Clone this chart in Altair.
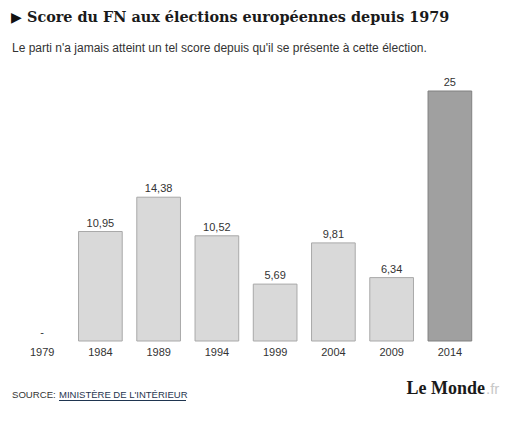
import altair as alt
import pandas as pd

years = ["1979", "1984", "1989", "1994", "1999", "2004", "2009", "2014"]
scores = [None, 10.95, 14.38, 10.52, 5.69, 9.81, 6.34, 25]
labels = ["-", "10,95", "14,38", "10,52", "5,69", "9,81", "6,34", "25"]
groups = ["past"] * 7 + ["current"]

title_text = "Score du FN aux élections européennes depuis 1979"
subtitle_text = "Le parti n'a jamais atteint un tel score depuis qu'il se présente à cette élection."

df = pd.DataFrame({"year": years, "score": scores, "label": labels, "group": groups})
one = pd.DataFrame({"k": [0]})

xscale = alt.Scale(domain=years, range=[13, 479], paddingInner=0.25, paddingOuter=0.125)
yscale = alt.Scale(domain=[0, 25], range=[341, 91], nice=False, zero=True)
X = alt.X("year:N", scale=xscale, axis=None)

base = alt.Chart(df)

bars = base.transform_filter("isValid(datum.score)").mark_bar(strokeWidth=1).encode(
    x=X,
    y=alt.Y("score:Q", scale=yscale, axis=None),
    fill=alt.Fill("group:N", scale=alt.Scale(domain=["past", "current"], range=["#d9d9d9", "#a0a0a0"]), legend=None),
    stroke=alt.Stroke("group:N", scale=alt.Scale(domain=["past", "current"], range=["#a9a9a9", "#808080"]), legend=None),
)

values = base.transform_calculate(ypos="isValid(datum.score) ? datum.score : 0").mark_text(
    dy=-5, baseline="alphabetic", fontSize=11, font="Liberation Sans", color="#333333"
).encode(
    x=X,
    y=alt.Y("ypos:Q", scale=yscale, axis=None),
    text="label:N",
)

year_labels = base.mark_text(baseline="middle", fontSize=11, font="Liberation Sans", color="#333333").encode(
    x=X, y=alt.value(353), text="year:N"
)

def deco(text, x, y, align="left", **kw):
    return alt.Chart(one).mark_text(align=align, baseline="alphabetic", **kw).encode(
        x=alt.value(x), y=alt.value(y), text=alt.value(text)
    )

tri = deco("▶", 11, 22, font="DejaVu Sans", fontSize=14, color="#111111")
title = deco(title_text, 27, 22, font="DejaVu Serif", fontWeight="bold", fontSize=14.4, color="#1a1a1a")
subtitle = deco(subtitle_text, 12, 52, font="Liberation Sans", fontSize=12, color="#333333")
source = deco("SOURCE:", 12, 398, font="Liberation Sans", fontSize=9.6, color="#333333")
link = deco("MINISTÈRE DE L'INTÉRIEUR", 59, 398, font="Liberation Sans", fontSize=9.5, color="#1f3550")
underline = alt.Chart(one).mark_rule(color="#1f3550", strokeWidth=1).encode(
    x=alt.value(59), x2=alt.value(186), y=alt.value(400.5)
)
logo = deco("Le Monde", 485, 394, align="right", font="Liberation Serif", fontWeight="bold", fontSize=18, color="#1a1a1a")
logo_fr = deco(".fr", 486, 394, font="Liberation Sans", fontSize=15, color="#c8c8c8")

chart = alt.layer(
    bars, values, year_labels, tri, title, subtitle, source, link, underline, logo, logo_fr
).properties(
    width=528, height=427, autosize=alt.AutoSizeParams(type="none"), padding=0, background="white"
).configure_view(stroke=None)

chart.save("out.html", embed_options={"renderer": "svg", "actions": False})
